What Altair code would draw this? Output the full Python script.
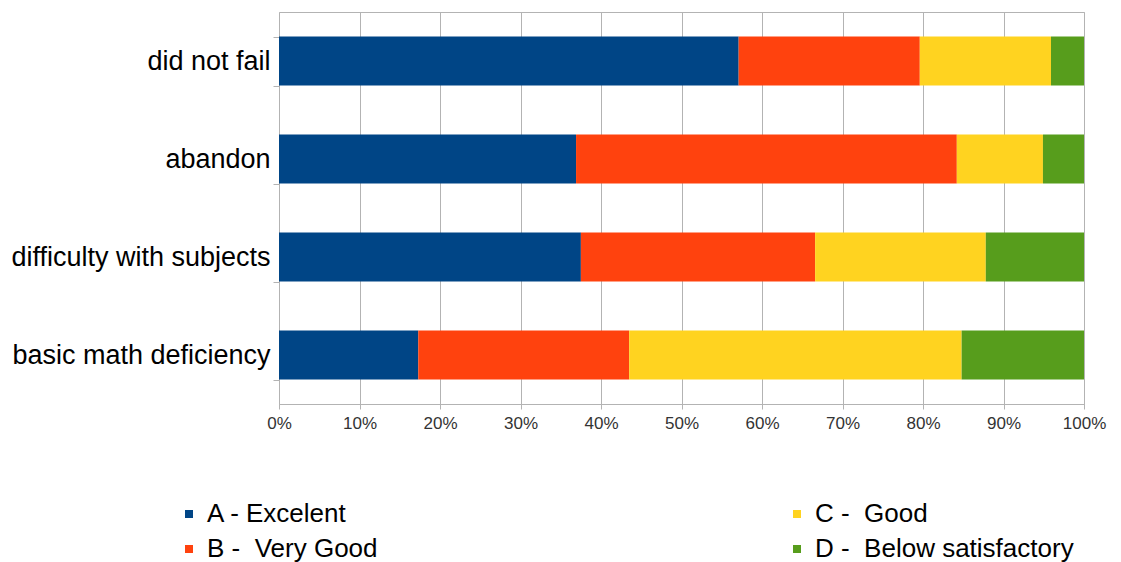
import altair as alt
import pandas as pd

categories = ["did not fail", "abandon", "difficulty with subjects", "basic math deficiency"]
grades = ["A - Excelent", "B -\u00a0 Very Good", "C -\u00a0 Good", "D -\u00a0 Below satisfactory"]
colors = ["#004586", "#ff420e", "#ffd320", "#579d1c"]

grade_a = [57.1, 36.9, 37.5, 17.3]
grade_b = [22.5, 47.3, 29.1, 26.2]
grade_c = [16.3, 10.7, 21.2, 41.3]
grade_d = [4.1, 5.1, 12.2, 15.2]

rows = []
for i, cat in enumerate(categories):
    for k, series in enumerate([grade_a, grade_b, grade_c, grade_d]):
        rows.append({"category": cat, "grade": grades[k], "rank": k, "value": series[i]})
df = pd.DataFrame(rows)

FONT = "Liberation Sans"

chart = alt.Chart(df).mark_bar().encode(
    y=alt.Y(
        "category:N",
        sort=categories,
        title=None,
        scale=alt.Scale(paddingInner=0.5, paddingOuter=0.25),
        axis=alt.Axis(
            labelFont=FONT, labelFontSize=27, labelColor="#000000",
            tickBand="extent", tickSize=6, tickColor="#b3b3b3",
            labelPadding=3, domain=False, grid=False, labelLimit=400,
        ),
    ),
    x=alt.X(
        "value:Q",
        stack="normalize",
        title=None,
        scale=alt.Scale(domain=[0, 1], nice=False),
        axis=alt.Axis(
            format="%", values=[i / 10 for i in range(11)],
            labelFont=FONT, labelFontSize=17, labelColor="#333333",
            grid=True, gridColor="#b3b3b3", tickColor="#b3b3b3", tickSize=5,
            domainColor="#b3b3b3", labelPadding=6, labelFlush=False,
        ),
    ),
    color=alt.Color(
        "grade:N",
        scale=alt.Scale(domain=grades, range=colors),
        legend=alt.Legend(
            title=None, orient="none", legendX=-103, legendY=489,
            columns=2,
            symbolType="square", symbolSize=64, symbolStrokeWidth=0,
            labelFont=FONT, labelFontSize=26, labelColor="#000000",
            labelOffset=5, rowPadding=9, columnPadding=406, labelLimit=400,
        ),
    ),
    order=alt.Order("rank:Q", sort="ascending"),
).properties(
    width=805, height=392,
    autosize=alt.AutoSizeParams(type="none"),
    padding={"left": 279, "top": 12, "right": 37, "bottom": 158},
).configure_view(stroke="#b3b3b3", strokeWidth=1)

chart.save("out.html", embed_options={"renderer": "svg", "actions": False})
